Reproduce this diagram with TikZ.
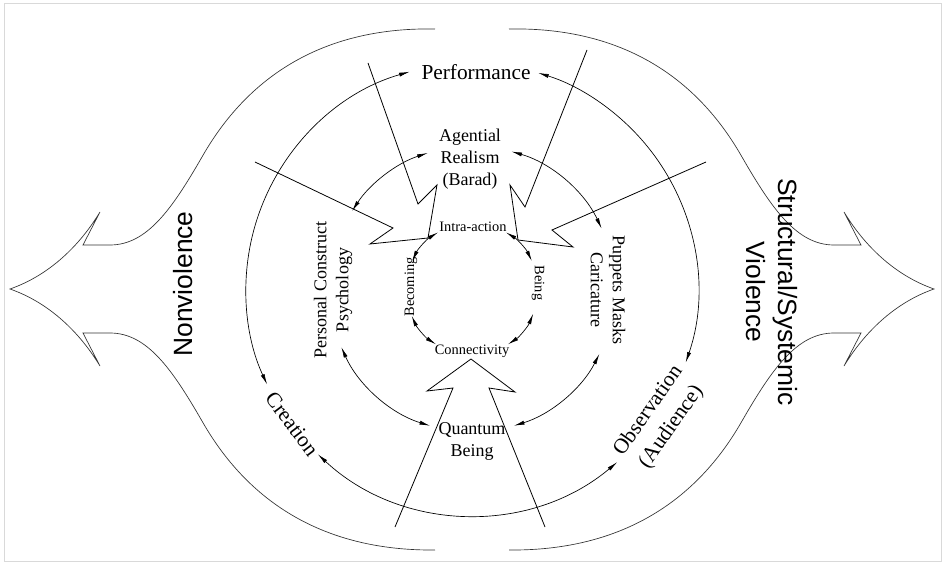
\documentclass[tikz,border=0pt]{standalone}
\usepackage{fontspec}
\setmainfont{Liberation Serif}
\newfontfamily\sidefont{Liberation Sans}
\usetikzlibrary{arrows.meta}

\begin{document}
\begin{tikzpicture}[x=0.75pt,y=0.75pt,line width=0.5pt]

\tikzset{ring/.style={{Latex[length=8pt,width=3pt]}-{Latex[length=8pt,width=3pt]}},
bolt/.style={line width=0.6pt,line join=miter},
swoosh/.style={line width=0.5pt,black!80},
outerlabel/.style={font=\fontsize{16}{21}\selectfont,align=center,inner sep=0pt},
midlabel/.style={font=\fontsize{13.5}{16.5}\selectfont,align=center,inner sep=0pt},
innerlabel/.style={font=\fontsize{10.8}{13}\selectfont,inner sep=0pt},
sidelabel/.style={font=\sidefont\fontsize{19.8}{24}\selectfont,align=center,inner sep=0pt}}

\useasboundingbox (-472,-275) rectangle (473,289);
\draw [gray!30,line width=0.75pt] (-467,-272) rectangle (469,285);

% outer swooshes, left one mirrored to the right
\foreach \side in {1,-1} {
\begin{scope}[xscale=\side]
\draw [swoosh] (-37,260) .. controls (-140,262) and (-220,220) .. (-270,132)
  .. controls (-300,80) and (-325,44) .. (-362,44) -- (-389,44) -- (-372,77)
  .. controls (-392,44) and (-422,14) .. (-462,0)
  .. controls (-422,-14) and (-392,-44) .. (-372,-77) -- (-389,-44) -- (-362,-44)
  .. controls (-325,-44) and (-300,-80) .. (-270,-132)
  .. controls (-220,-220) and (-140,-262) .. (-37,-261);
\end{scope}}

% labels
\node [sidelabel,rotate=90] (nonv) at (-289,5) {Nonviolence};
\node [sidelabel,rotate=-90] (ssv) at (300,-3) {Structural/Systemic\\Violence};

\node [outerlabel] (perf) at (4,217) {Performance};
\node [outerlabel,rotate=-53] (creat) at (-180,-135) {Creation};
\node [outerlabel,rotate=55] (obs) at (188,-130) {Observation\\(Audience)};

\node [midlabel] (agent) at (-2,130) {Agential\\Realism\\(Barad)};
\node [midlabel,rotate=90] (pcp) at (-139,-1) {Personal Construct\\Psychology};
\node [midlabel,rotate=-90] (puppet) at (136,-1) {Puppets Masks\\Caricature};
\node [midlabel] (quant) at (0,-152) {Quantum\\Being};

\node [innerlabel] (intra) at (1,62) {Intra-action};
\node [innerlabel] (conn) at (0,-62) {Connectivity};
\node [innerlabel,rotate=90] (becom) at (-61,2) {Becoming};
\node [innerlabel,rotate=-90] (being) at (66,6) {Being};

% rings
\draw [ring] (106:226) arc [start angle=106,end angle=205,radius=226];
\draw [ring] (227:226) arc [start angle=227,end angle=310,radius=226];
\draw [ring] (341:226) arc [start angle=341,end angle=433,radius=226];

\draw [ring] (108:143) arc [start angle=108,end angle=147,radius=143];
\draw [ring] (204:143) arc [start angle=204,end angle=253,radius=143];
\draw [ring] (287:143) arc [start angle=287,end angle=333,radius=143];
\draw [ring] (25:143) arc [start angle=25,end angle=74,radius=143];

\draw [ring] (121:66) arc [start angle=121,end angle=155,radius=66];
\draw [ring] (204:66) arc [start angle=204,end angle=237,radius=66];
\draw [ring] (303:66) arc [start angle=303,end angle=338,radius=66];
\draw [ring] (25:66) arc [start angle=25,end angle=59,radius=66];

% bolts
\coordinate (tipL) at (-44,51);
\coordinate (tipR) at (46,49);
\coordinate (tipB) at (-1,-70);
\draw [bolt] (-104,226) -- (-54,85) -- (-35,104) -- (tipL) -- (-102,45) -- (-79,61) -- (-217,127);
\draw [bolt] (115,239) -- (53,82) -- (38,104) -- (tipR) -- (101,42) -- (80,59) -- (234,127);
\draw [bolt] (-77,-238) -- (-19,-99) -- (-45,-102) -- (tipB) -- (43,-103) -- (17,-99) -- (73,-238);

\end{tikzpicture}
\end{document}
